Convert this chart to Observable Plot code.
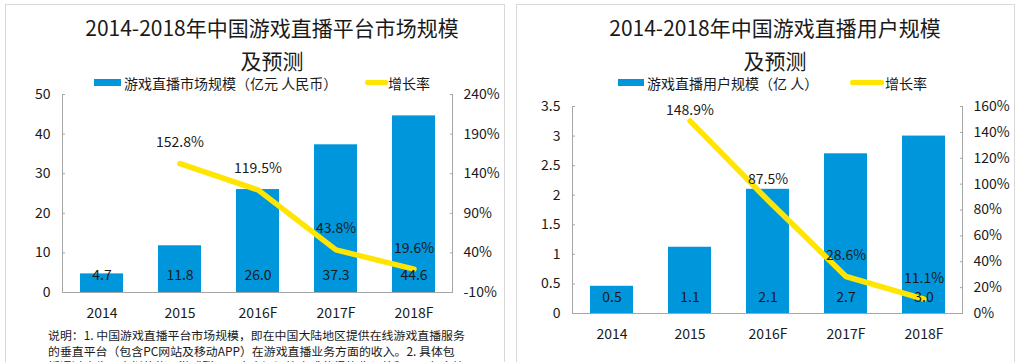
<!DOCTYPE html>
<html>
<head>
<meta charset="utf-8">
<script src="https://cdn.jsdelivr.net/npm/d3@7"></script>
<script src="https://cdn.jsdelivr.net/npm/@observablehq/plot@0.6"></script>
<style>
  html, body { margin: 0; padding: 0; background: #fff; }
  body { width: 1024px; height: 362px; position: relative; overflow: hidden;
         font-family: "Noto Sans CJK SC", "Noto Sans", sans-serif; color: #1a1a1a; }
  .panel { position: absolute; top: 4px; height: 400px; border: 1px solid #d9d9d9; box-sizing: border-box; }
  .title { position: absolute; width: 500px; text-align: center; font-size: 21px; line-height: 20px; }
  .legend { position: absolute; font-size: 14px; line-height: 14px; white-space: nowrap; }
  .sw { position: absolute; }
  .chart { position: absolute; top: 0; }
  .caption { position: absolute; left: 48px; top: 327px; font-size: 11.9px; line-height: 15.5px; white-space: nowrap; }
</style>
</head>
<body>
<div class="panel" style="left:5px;width:500px;"></div>
<div class="panel" style="left:516px;width:499px;"></div>
<div id="root"></div>
<script>
// ---- data ----
const years = ["2014", "2015", "2016F", "2017F", "2018F"];
const marketSize = [4.7, 11.8, 26.0, 37.3, 44.6];
const marketGrowth = [null, 152.8, 119.5, 43.8, 19.6];
const userSize = [0.46, 1.12, 2.1, 2.7, 3.0];
const userGrowth = [null, 148.9, 87.5, 28.6, 11.1];
const marketTicks = [0, 10, 20, 30, 40, 50];
const marketRateTicks = [-10, 40, 90, 140, 190, 240];
const userTicks = [0, 0.5, 1, 1.5, 2, 2.5, 3, 3.5];
const userRateTicks = [0, 20, 40, 60, 80, 100, 120, 140, 160];

const leftTitle = ["2014-2018年中国游戏直播平台市场规模", "及预测"];
const rightTitle = ["2014-2018年中国游戏直播用户规模", "及预测"];
const leftLegend = ["游戏直播市场规模（亿元 人民币）", "增长率"];
const rightLegend = ["游戏直播用户规模（亿 人）", "增长率"];
const captionLines = [
  "说明：1. 中国游戏直播平台市场规模，即在中国大陆地区提供在线游戏直播服务",
  "的垂直平台（包含PC网站及移动APP）在游戏直播业务方面的收入。2. 具体包",
  "括通过广告、虚拟礼物、游戏联运、内容订阅等方式获得的收入总和，不包含综"
];

const BLUE = "#0096DB";
const YELLOW = "#FFE500";
const GRID = "#a6a6a6";
const FONT = '"Noto Sans CJK SC", "Noto Sans", sans-serif';

function makeChart(opts) {
  const {size, growth, ticks, rateTicks, left, mL, mR, mT, mB, valueDy, xPad} = opts;
  const yMax = ticks[ticks.length - 1];
  const r0 = rateTicks[0], r1 = rateTicks[rateTicks.length - 1];
  const toY = r => (r - r0) / (r1 - r0) * yMax;
  const fromY = y => y / yMax * (r1 - r0) + r0;
  const innerH = 362 - mT - mB;
  const labelLift = 21 / innerH * yMax;       // 21px above the point, in y units
  const labelCap = yMax - 4 / innerH * yMax;  // keep labels inside the frame top
  const bars = years.map((x, i) => ({x, v: size[i]}));
  const rates = years.map((x, i) => ({x, r: growth[i]})).filter(d => d.r != null);
  const chart = Plot.plot({
    width: 512, height: 362,
    marginLeft: mL, marginRight: mR, marginTop: mT, marginBottom: mB,
    style: {fontFamily: FONT, fontSize: "14px", color: "#1a1a1a", background: "transparent"},
    x: {domain: years, paddingInner: 0.45, paddingOuter: 0.225},
    y: {domain: [0, yMax]},
    marks: [
      Plot.barY(bars, {x: "x", y: "v", fill: BLUE}),
      Plot.frame({anchor: "left", stroke: GRID}),
      Plot.frame({anchor: "right", stroke: GRID}),
      Plot.frame({anchor: "bottom", stroke: GRID}),
      Plot.axisY(ticks, {anchor: "left", label: null, tickSize: -3, tickPadding: 15, stroke: GRID,
        tickFormat: d => String(d), fill: "#1a1a1a"}),
      Plot.axisY(rateTicks.map(toY), {anchor: "right", label: null, tickSize: -3, tickPadding: 14, stroke: GRID,
        tickFormat: d => Math.round(fromY(d)) + "%", fill: "#1a1a1a"}),
      Plot.axisX({label: null, tickSize: 0, tickPadding: xPad, fill: "#1a1a1a"}),
      Plot.line(rates, {x: "x", y: d => toY(d.r), stroke: YELLOW, strokeWidth: 5.5, strokeLinecap: "round", strokeLinejoin: "round"}),
      Plot.text(bars, {x: "x", y: () => 0, text: d => d3.format(".1f")(d.v), dy: valueDy, fontSize: 14, fill: "#1a1a1a"}),
      Plot.text(rates, {x: "x", y: d => Math.min(toY(d.r) + labelLift, labelCap), text: d => d.r.toFixed(1) + "%",
        fontSize: 14, fill: "#1a1a1a"})
    ]
  });
  chart.classList.add("chart");
  chart.style.left = left + "px";
  return chart;
}

const root = document.getElementById("root");
root.appendChild(makeChart({size: marketSize, growth: marketGrowth, ticks: marketTicks, rateTicks: marketRateTicks,
  left: 0, mL: 62, mR: 60, mT: 94, mB: 70, valueDy: -17, xPad: 16}));
root.appendChild(makeChart({size: userSize, growth: userGrowth, ticks: userTicks, rateTicks: userRateTicks,
  left: 512, mL: 60, mR: 62, mT: 106, mB: 49, valueDy: -16, xPad: 16}));

function addTitle(lines, cx) {
  lines.forEach((l, i) => {
    const d = document.createElement("div");
    d.className = "title";
    d.style.left = (cx - 250) + "px";
    d.style.top = (17 + i * 33) + "px";
    d.textContent = l;
    root.appendChild(d);
  });
}
addTitle(leftTitle, 272);
addTitle(rightTitle, 775);

function addLegend(labels, sx, tx, yx0, yx1, ytx) {
  const mk = (cls, css, html) => { const e = document.createElement("div"); e.className = cls; e.style.cssText = css; if (html) e.textContent = html; root.appendChild(e); };
  mk("sw", `left:${sx}px;top:79px;width:${tx - sx - 3}px;height:7px;background:${BLUE};`);
  mk("legend", `left:${tx}px;top:76px;`, labels[0]);
  mk("sw", `left:${yx0}px;top:80px;width:${yx1 - yx0}px;height:5px;background:${YELLOW};border-radius:2px;`);
  mk("legend", `left:${ytx}px;top:76px;`, labels[1]);
}
addLegend(leftLegend, 94, 124, 365, 388, 388);
addLegend(rightLegend, 618, 647, 850, 884, 885);

const cap = document.createElement("div");
cap.className = "caption";
cap.innerHTML = captionLines.map(l => `<div>${l}</div>`).join("");
root.appendChild(cap);
</script>
</body>
</html>
